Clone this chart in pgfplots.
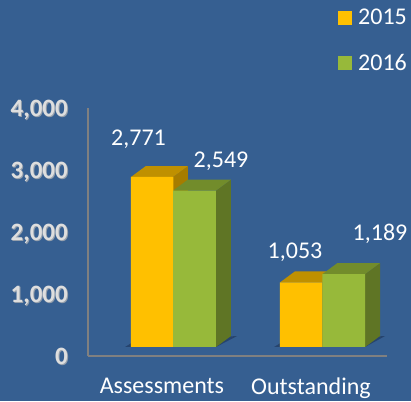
\documentclass[border=0pt]{standalone}
\usepackage{fontspec}
\setmainfont{Carlito}
\usepackage{pgfplots}
\pgfplotsset{compat=1.18}
\definecolor{bgblue}{RGB}{54,95,145}
\definecolor{spine}{RGB}{128,128,128}
\definecolor{ticklab}{RGB}{222,222,222}
\definecolor{tickshadow}{RGB}{150,160,172}
\definecolor{barorange}{RGB}{255,192,0}
\definecolor{toporange}{RGB}{191,144,0}
\definecolor{sideorange}{RGB}{166,124,0}
\definecolor{bargreen}{RGB}{151,185,58}
\definecolor{topgreen}{RGB}{114,140,43}
\definecolor{sidegreen}{RGB}{95,117,37}
\definecolor{floorshadow}{RGB}{38,68,110}
\pgfplotsset{
  frameaxis/.style={
    scale only axis, width=299pt, height=248pt,
    anchor=south west,
    xmin=-0.570, xmax=1.436, ymin=0, ymax=4000,
    xtick={-0.0738,0.926},
    xticklabels={Assessments,Outstanding},
    ytick={0,1000,2000,3000,4000},
    tick style={draw=none},
    /pgf/number format/assume math mode=true,
    /pgf/number format/1000 sep={,},
    scaled y ticks=false,
    y tick label style={font=\fontsize{25}{25}\selectfont\bfseries, inner sep=0pt, xshift=-20pt, yshift=-2pt, text depth=4pt},
    x tick label style={font=\fontsize{24}{24}\selectfont, text=white, inner sep=0pt, yshift=-22pt},
  },
}
\begin{document}
\begin{tikzpicture}[x=1pt,y=1pt]
\fill[bgblue] (0,0) rectangle (411,401);
\path[use as bounding box] (0,0) rectangle (411,401);

% soft shadow behind the value axis labels
\begin{axis}[frameaxis, at={(89pt,44pt)}, hide x axis, axis y line*=left,
  y axis line style={draw=none}, y tick label style={text=tickshadow}]
\addplot[draw=none, forget plot] coordinates {(0,0)};
\end{axis}

% visible axis, its baseline sits below the bars (3d floor)
\begin{axis}[frameaxis, at={(88pt,45pt)},
  axis x line*=bottom, axis y line*=left,
  axis line style={spine, line width=2pt},
  y tick label style={text=ticklab}]
\addplot[draw=none, forget plot] coordinates {(0,0)};
\end{axis}

% bars: 1 x unit = 149 px, zero of the bars at 347 px from the top
\begin{axis}[
  scale only axis, width=411pt, height=401pt,
  anchor=south west, at={(0pt,0pt)},
  xmin=-1.161, xmax=1.597, ymin=-880.2, ymax=5656,
  hide axis,
  legend style={at={(338pt,392pt)}, anchor=north west, draw=none, fill=none,
    font=\fontsize{24}{24}\selectfont, text=white, inner sep=0pt, row sep=28pt,
    cells={anchor=west}, nodes={inner sep=0pt}},
  legend cell align=left,
  legend image code/.code={\fill[#1,draw=none] (0pt,-7pt) rectangle (14pt,7pt);},
]
% floor shadows
\addplot[fill=floorshadow, draw=none, forget plot] coordinates {(-0.322,0) (-0.268,81) (0.43,179) (0.2886,0)} -- cycle;
\addplot[fill=floorshadow, draw=none, forget plot] coordinates {(0.678,0) (0.732,81) (1.423,179) (1.289,0)} -- cycle;

% Assessments 2015, side and top
\addplot[fill=sideorange, draw=none, forget plot] coordinates {(0,0) (0.1,179) (0.1,2950) (0,2771)} -- cycle;
\addplot[fill=toporange, draw=none, forget plot] coordinates {(-0.282,2771) (0,2771) (0.1,2950) (-0.182,2950)} -- cycle;
% Assessments 2016
\addplot[fill=sidegreen, draw=none, forget plot] coordinates {(0.2886,0) (0.3886,179) (0.3886,2728) (0.2886,2549)} -- cycle;
\addplot[fill=topgreen, draw=none, forget plot] coordinates {(0,2549) (0.2886,2549) (0.3886,2728) (0.1,2728)} -- cycle;
% Outstanding 2015
\addplot[fill=sideorange, draw=none, forget plot] coordinates {(1.003,0) (1.103,179) (1.103,1232) (1.003,1053)} -- cycle;
\addplot[fill=toporange, draw=none, forget plot] coordinates {(0.718,1053) (1.003,1053) (1.103,1232) (0.818,1232)} -- cycle;
% Outstanding 2016
\addplot[fill=sidegreen, draw=none, forget plot] coordinates {(1.289,0) (1.389,179) (1.389,1368) (1.289,1189)} -- cycle;
\addplot[fill=topgreen, draw=none, forget plot] coordinates {(1.003,1189) (1.289,1189) (1.389,1368) (1.103,1368)} -- cycle;

% front faces
\addplot[ybar, bar width=42.5pt, bar shift=0pt, fill=barorange, draw=none] coordinates {(-0.141,2771) (0.859,1053)};
\addlegendentry{\hspace{6pt}2015}
\addplot[ybar, bar width=42.8pt, bar shift=0pt, fill=bargreen, draw=none] coordinates {(0.144,2549) (1.146,1189)};
\addlegendentry{\hspace{6pt}2016}

\begin{scope}[every node/.style={text=white, font=\fontsize{24}{24}\selectfont, inner sep=0pt}]
\node at (axis cs:-0.2315,3390) {2,771};
\node at (axis cs:0.322,3032) {2,549};
\node at (axis cs:0.819,1548) {1,053};
\node at (axis cs:1.389,1842) {1,189};
\end{scope}
\end{axis}
\end{tikzpicture}
\end{document}
